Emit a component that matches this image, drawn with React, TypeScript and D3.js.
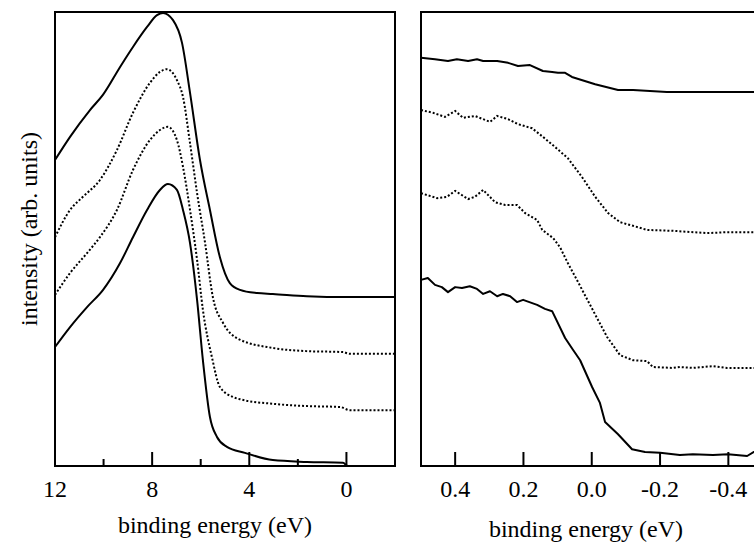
import React from 'react';
import * as d3 from 'd3';

type P = [number, number];

// Left panel: valence band spectra (binding energy eV, intensity arb.)
const leftSolidTop: P[] = [
  [12.0, 67.4], [11.38, 72.5], [10.56, 78.4], [10.02, 81.8], [9.32, 87.9], [8.79, 92.3],
  [8.21, 96.7], [7.8, 99.3], [7.55, 99.8], [7.14, 98.2], [6.77, 93.2], [6.44, 82.2],
  [6.03, 67.4], [5.62, 56.4], [5.21, 46.0], [4.8, 40.3], [4.38, 38.8], [3.68, 38.1],
  [3.03, 37.9], [1.63, 37.4], [-0.02, 37.2], [-2.0, 37.2],
];
const leftDotted1: P[] = [
  [12.0, 50.4], [11.38, 56.4], [10.85, 59.3], [10.15, 63.0], [9.45, 69.6], [8.79, 77.8],
  [8.09, 84.4], [7.68, 86.8], [7.39, 87.4], [6.98, 85.0], [6.73, 81.3], [6.44, 71.1],
  [6.15, 60.1], [5.82, 49.1], [5.5, 37.2], [5.08, 31.5], [4.45, 28.0], [3.03, 26.0],
  [1.63, 25.3], [0.14, 25.1], [-0.14, 24.7], [-2.0, 24.7],
];
const leftDotted2: P[] = [
  [12.0, 37.7], [11.38, 42.5], [10.68, 46.9], [10.15, 50.4], [9.45, 56.4], [8.79, 65.2],
  [8.09, 71.8], [7.68, 74.0], [7.35, 74.7], [6.98, 71.8], [6.73, 65.9], [6.44, 56.4],
  [6.15, 45.4], [5.91, 34.4], [5.54, 24.0], [5.21, 17.4], [4.67, 15.2], [4.3, 14.6],
  [3.03, 13.7], [1.63, 13.2], [0.27, 13.0], [-0.14, 12.3], [-2.0, 12.3],
];
const leftSolidBottom: P[] = [
  [12.0, 26.2], [11.38, 30.6], [10.68, 35.0], [10.02, 38.8], [9.32, 44.7], [8.79, 50.4],
  [8.21, 56.4], [7.68, 60.8], [7.35, 62.1], [6.98, 60.8], [6.73, 56.4], [6.44, 49.1],
  [6.15, 36.6], [5.91, 23.3], [5.62, 10.8], [5.33, 6.4], [4.92, 4.2], [4.18, 2.9],
  [3.03, 1.3], [1.63, 0.9], [0.14, 0.7], [-0.06, 0.0], [-2.0, 0.0],
];

// Right panel: near Fermi edge
const rightSolidTop: P[] = [
  [0.5, 89.9], [0.459, 89.6], [0.421, 89.2], [0.395, 89.6], [0.362, 89.2], [0.336, 89.6],
  [0.318, 89.2], [0.277, 89.2], [0.245, 88.8], [0.216, 88.1], [0.181, 88.3], [0.143, 87.0],
  [0.116, 86.8], [0.099, 86.6], [0.078, 86.6], [0.058, 85.7], [-0.01, 84.1], [-0.077, 82.8],
  [-0.121, 82.8], [-0.22, 82.4], [-0.317, 82.4], [-0.414, 82.4], [-0.5, 82.4],
];
const rightDotted1: P[] = [
  [0.5, 78.4], [0.465, 77.8], [0.43, 76.9], [0.4, 78.2], [0.377, 76.7], [0.342, 77.1],
  [0.298, 75.8], [0.277, 77.1], [0.245, 76.4], [0.216, 75.3], [0.175, 74.4], [0.143, 72.5],
  [0.108, 70.3], [0.07, 67.8], [0.029, 63.7], [-0.01, 59.3], [-0.048, 55.7], [-0.083, 53.7],
  [-0.121, 52.9], [-0.162, 52.0], [-0.238, 51.8], [-0.337, 51.3], [-0.396, 51.5], [-0.5, 51.5],
];
const rightDotted2: P[] = [
  [0.5, 60.1], [0.453, 59.0], [0.424, 59.3], [0.4, 60.6], [0.362, 58.8], [0.342, 59.3],
  [0.318, 60.8], [0.283, 58.1], [0.254, 57.5], [0.219, 57.5], [0.195, 55.7], [0.16, 54.2],
  [0.145, 52.0], [0.113, 50.2], [0.093, 48.2], [0.07, 44.7], [0.04, 40.5], [0.005, 35.5],
  [-0.045, 28.4], [-0.083, 24.4], [-0.121, 23.3], [-0.162, 23.1], [-0.179, 21.8], [-0.238, 21.6],
  [-0.258, 21.8], [-0.296, 21.6], [-0.355, 22.0], [-0.396, 21.6], [-0.5, 21.6],
];
const rightSolidBottom: P[] = [
  [0.5, 41.0], [0.48, 41.4], [0.459, 39.9], [0.439, 39.4], [0.421, 38.3], [0.4, 39.4],
  [0.38, 39.2], [0.357, 39.6], [0.336, 39.0], [0.318, 37.9], [0.298, 38.5], [0.277, 37.4],
  [0.26, 37.9], [0.239, 37.4], [0.219, 36.1], [0.201, 36.6], [0.16, 35.5], [0.137, 34.6],
  [0.116, 34.1], [0.078, 28.2], [0.055, 25.6], [0.034, 23.3], [-0.001, 17.4], [-0.024, 13.9],
  [-0.039, 9.7], [-0.077, 7.0], [-0.118, 3.7], [-0.156, 3.1], [-0.2, 2.9], [-0.258, 2.4],
  [-0.296, 2.6], [-0.355, 2.4], [-0.399, 2.6], [-0.455, 2.2], [-0.475, 3.1], [-0.5, 3.4],
];

const leftMajorTicks = [12, 8, 4, 0];
const leftMinorTicks = [10, 6, 2];
const leftTickLabels = ['12', '8', '4', '0'];
const rightTicks = [0.4, 0.2, 0.0, -0.2, -0.4];
const rightTickLabels = ['0.4', '0.2', '0.0', '-0.2', '-0.4'];

const xTitle = 'binding energy (eV)';
const yTitle = 'intensity (arb. units)';

export default function App() {
  const W = 754, H = 543;
  const top = 12, bottom = 466;
  const font = '"Liberation Serif", "Times New Roman", Times, "DejaVu Serif", serif';
  const fs = 24;

  const y = d3.scaleLinear().domain([0, 100]).range([bottom, top]);
  const xL = d3.scaleLinear().domain([12, -2]).range([55, 395]);
  const xR = d3.scaleLinear().domain([0.5, -0.5]).range([421, 762.5]);

  const lineL = d3.line<P>().x(d => xL(d[0])).y(d => y(d[1])).curve(d3.curveMonotoneX);
  const lineR = d3.line<P>().x(d => xR(d[0])).y(d => y(d[1]));

  const solid = { fill: 'none', stroke: '#000', strokeWidth: 2, strokeLinejoin: 'round' as const };
  const dotted = { fill: 'none', stroke: '#000', strokeWidth: 2, strokeDasharray: '2,2' };

  const [l0, l1] = xL.range();
  const [r0, r1] = xR.range();
  const textStyle = { fontFamily: font, fontSize: fs };

  return (
    <svg width={W} height={H} style={{ position: 'absolute', left: 0, top: 0, background: '#fff' }}>
      {/* left panel */}
      <path d={lineL(leftSolidTop) || ''} {...solid} />
      <path d={lineL(leftDotted1) || ''} {...dotted} />
      <path d={lineL(leftDotted2) || ''} {...dotted} />
      <path d={lineL(leftSolidBottom) || ''} {...solid} />
      <rect x={l0} y={top} width={l1 - l0} height={bottom - top} fill="none" stroke="#000" strokeWidth={2} />
      {leftMajorTicks.map(t => (
        <line key={'M' + t} x1={xL(t)} x2={xL(t)} y1={bottom} y2={bottom - 14} stroke="#000" strokeWidth={2} />
      ))}
      {leftMinorTicks.map(t => (
        <line key={'m' + t} x1={xL(t)} x2={xL(t)} y1={bottom} y2={bottom - 7} stroke="#000" strokeWidth={2} />
      ))}
      {leftMajorTicks.map((t, i) => (
        <text key={'L' + t} x={xL(t)} y={497} style={textStyle} textAnchor="middle">{leftTickLabels[i]}</text>
      ))}
      <text x={215} y={533} style={textStyle} textAnchor="middle">{xTitle}</text>
      <text transform={`translate(37, ${(top + bottom) / 2 - 10}) rotate(-90)`} style={textStyle} textAnchor="middle">{yTitle}</text>

      {/* right panel */}
      <path d={lineR(rightSolidTop) || ''} {...solid} />
      <path d={lineR(rightDotted1) || ''} {...dotted} />
      <path d={lineR(rightDotted2) || ''} {...dotted} />
      <path d={lineR(rightSolidBottom) || ''} {...solid} />
      <rect x={r0} y={top} width={r1 - r0} height={bottom - top} fill="none" stroke="#000" strokeWidth={2} />
      {rightTicks.map(t => (
        <line key={'R' + t} x1={xR(t)} x2={xR(t)} y1={bottom} y2={bottom - 14} stroke="#000" strokeWidth={2} />
      ))}
      {rightTicks.map((t, i) => (
        <text key={'RL' + t} x={xR(t)} y={497} style={textStyle} textAnchor="middle">{rightTickLabels[i]}</text>
      ))}
      <text x={586} y={537} style={textStyle} textAnchor="middle">{xTitle}</text>
    </svg>
  );
}
